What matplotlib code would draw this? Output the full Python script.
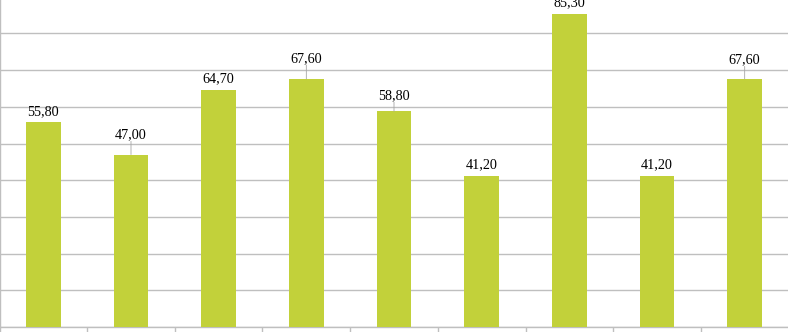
import numpy as np
import matplotlib
matplotlib.use("Agg")
import matplotlib.pyplot as plt

# bar values (category labels are cropped off in the reference)
categories = ["1", "2", "3", "4", "5", "6", "7", "8", "9"]
values = [55.80, 47.00, 64.70, 67.60, 58.80, 41.20, 85.30, 41.20, 67.60]
value_labels = ["55,80", "47,00", "64,70", "67,60", "58,80", "41,20", "85,30", "41,20", "67,60"]
# gap between bar top and its label, in points (some labels sit higher with a leader line)
label_gap = [3, 9.5, 3, 10, 6.5, 3, 3.5, 3, 9]

bar_color = "#c2d13a"
grid_color = "#bfbfbf"

fig = plt.figure(figsize=(7.88, 3.32), dpi=100)
# plot area is cropped: baseline sits 5 px above the bottom, top of axis is above the picture
ax = fig.add_axes([-0.5 / 788, 5 / 332, 789 / 788, 367 / 332])

x = np.arange(len(categories))
bars = ax.bar(x, values, width=0.395, color=bar_color, zorder=3)

ax.set_xlim(-0.5, len(categories) - 0.5)
ax.set_ylim(0, 100)
ax.set_yticks(np.arange(0, 101, 10))
ax.yaxis.grid(True, color=grid_color, linewidth=1)
ax.set_axisbelow(True)
ax.tick_params(axis="y", left=False, labelleft=False)

ax.set_xticks(x)
ax.set_xticklabels(categories)
ax.tick_params(axis="x", which="major", bottom=False, labelbottom=False)
ax.set_xticks(np.arange(-0.5, len(categories), 1), minor=True)
ax.tick_params(axis="x", which="minor", direction="out", length=4, width=1, color=grid_color)

for side in ["top", "right"]:
    ax.spines[side].set_visible(False)
for side in ["left", "bottom"]:
    ax.spines[side].set_color(grid_color)
    ax.spines[side].set_linewidth(1)

for xi, v, lab, gap in zip(x, values, value_labels, label_gap):
    ax.annotate(lab, xy=(xi, v), xytext=(0, gap), textcoords="offset points",
                ha="center", va="bottom", fontsize=10.2, family="Liberation Serif",
                color="black", zorder=4)
    if gap > 5:
        ax.annotate("", xy=(xi, v), xytext=(0, gap), textcoords="offset points",
                    arrowprops=dict(arrowstyle="-", color="#a6a6a6", linewidth=0.6,
                                    shrinkA=0, shrinkB=0), zorder=4)

fig.savefig("out.png", dpi=100)
